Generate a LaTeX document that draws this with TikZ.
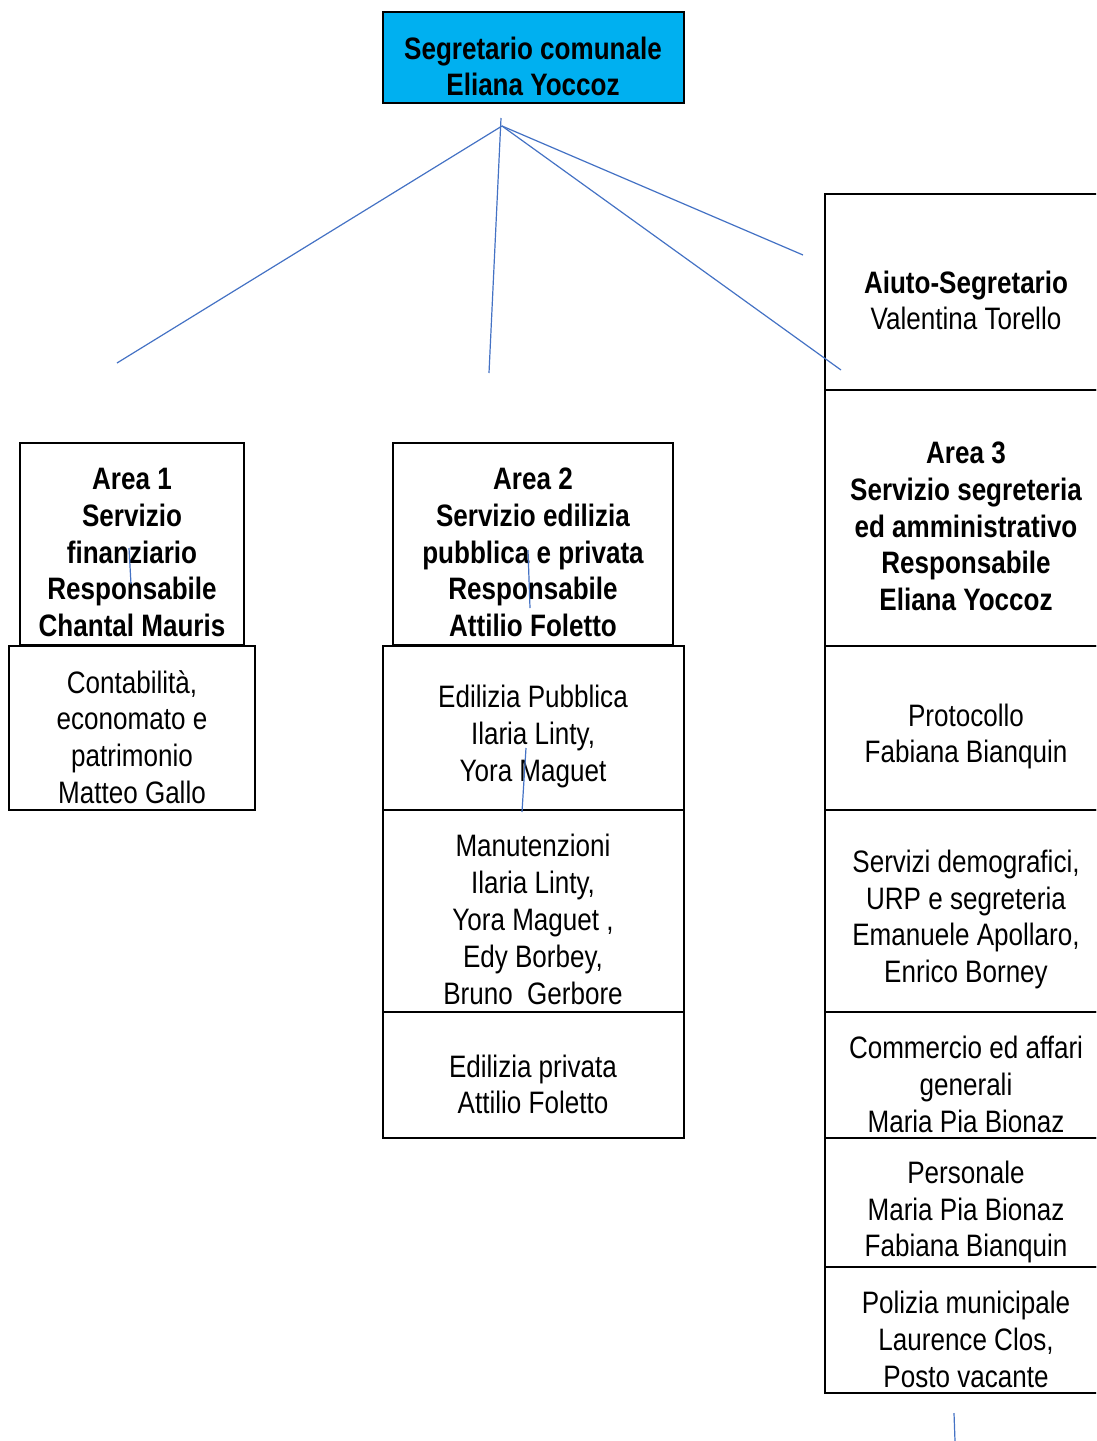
\documentclass[tikz,border=0pt]{standalone}
\usepackage{fontspec}
\setmainfont{Liberation Sans}[FakeStretch=0.84]
\definecolor{linkblue}{HTML}{4472C4}
\definecolor{headcyan}{HTML}{00B0F0}
\begin{document}
\begin{tikzpicture}[x=1pt,y=-1pt,
  box/.style={draw=black, line width=1.8pt, inner sep=0pt},
  txt/.style={align=center, font=\fontsize{31}{36.8}\selectfont, inner sep=0pt},
  btxt/.style={align=center, font=\fontsize{31}{36.8}\selectfont\bfseries, inner sep=0pt},
  link/.style={draw=linkblue, line width=1.2pt}]
\path[use as bounding box] (0,0) rectangle (1096,1441);
\clip (0,0) rectangle (1096,1441);

% ---- boxes ----
\node[box, fill=headcyan, minimum width=301pt, minimum height=91pt] (top) at (533.5,57.5) {};
\node[box, minimum width=224pt, minimum height=202pt] (a1h) at (132,544) {};
\node[box, minimum width=246pt, minimum height=164pt] (a1s) at (132,728) {};
\node[box, minimum width=280pt, minimum height=202pt] (a2h) at (533,544) {};
\node[box, minimum width=301pt, minimum height=164pt] (a2s1) at (533.5,728) {};
\node[box, minimum width=301pt, minimum height=202pt] (a2s2) at (533.5,911) {};
\node[box, minimum width=301pt, minimum height=126pt] (a2s3) at (533.5,1075) {};
\node[box, minimum width=282pt, minimum height=196pt] (aiuto) at (966,292) {};
\node[box, minimum width=282pt, minimum height=256pt] (a3h) at (966,518) {};
\node[box, minimum width=282pt, minimum height=164pt] (prot) at (966,728) {};
\node[box, minimum width=282pt, minimum height=202pt] (demo) at (966,911) {};
\node[box, minimum width=282pt, minimum height=126pt] (comm) at (966,1075) {};
\node[box, minimum width=282pt, minimum height=129pt] (pers) at (966,1202.5) {};
\node[box, minimum width=282pt, minimum height=126pt] (poli) at (966,1330) {};

% ---- texts ----
\node[btxt] (t-top) at (533,66.5) {Segretario comunale\\Eliana Yoccoz};
\node[btxt] (t-a1h) at (132,552.5) {Area 1\\Servizio\\finanziario\\Responsabile\\Chantal Mauris};
\node[txt] (t-a1s) at (132,737) {Contabilità,\\economato e\\patrimonio\\Matteo Gallo};
\node[btxt] (t-a2h) at (533,552.5) {Area 2\\Servizio edilizia\\pubblica e privata\\Responsabile\\Attilio Foletto};
\node[txt] (t-a2s1) at (533,736.5) {Edilizia Pubblica\\Ilaria Linty,\\Yora Maguet};
\node[txt] (t-a2s2) at (533,919.5) {Manutenzioni\\Ilaria Linty,\\Yora Maguet ,\\Edy Borbey,\\Bruno\ \ Gerbore};
\node[txt] (t-a2s3) at (533,1084.5) {Edilizia privata\\Attilio Foletto};
\node[txt] (t-aiuto) at (966,300.5) {\textbf{Aiuto-Segretario}\\Valentina Torello};
\node[btxt] (t-a3h) at (966,526.5) {Area 3\\Servizio segreteria\\ed amministrativo\\Responsabile\\Eliana Yoccoz};
\node[txt] (t-prot) at (966,736.5) {Protocollo\\Fabiana Bianquin};
\node[txt] (t-demo) at (966,919.5) {Servizi demografici,\\URP e segreteria\\Emanuele Apollaro,\\Enrico Borney};
\node[txt] (t-comm) at (966,1084.5) {Commercio ed affari\\generali\\Maria Pia Bionaz};
\node[txt] (t-pers) at (966,1212) {Personale\\Maria Pia Bionaz\\Fabiana Bianquin};
\node[txt] (t-poli) at (966,1339.5) {Polizia municipale\\Laurence Clos,\\Posto vacante};

% ---- connector coordinates ----
\coordinate (hub) at (502,126);
\coordinate (vtop) at (501,118);
\coordinate (e1) at (117,363);
\coordinate (e2) at (489,373);
\coordinate (e3) at (803,255);
\coordinate (e4) at (841,370);
\coordinate (f1a) at (129,548); \coordinate (f1b) at (131,584);
\coordinate (f2a) at (528,550); \coordinate (f2b) at (530,608);
\coordinate (f3a) at (526,748); \coordinate (f3b) at (522,812);
\coordinate (f4a) at (954,1413); \coordinate (f4b) at (955,1441);

% ---- connectors ----
\draw[link] (hub) -- (e1);
\draw[link] (vtop) -- (e2);
\draw[link] (hub) -- (e3);
\draw[link] (hub) -- (e4);
\draw[link] (f1a) -- (f1b);
\draw[link] (f2a) -- (f2b);
\draw[link] (f3a) -- (f3b);
\draw[link] (f4a) -- (f4b);
\end{tikzpicture}
\end{document}
